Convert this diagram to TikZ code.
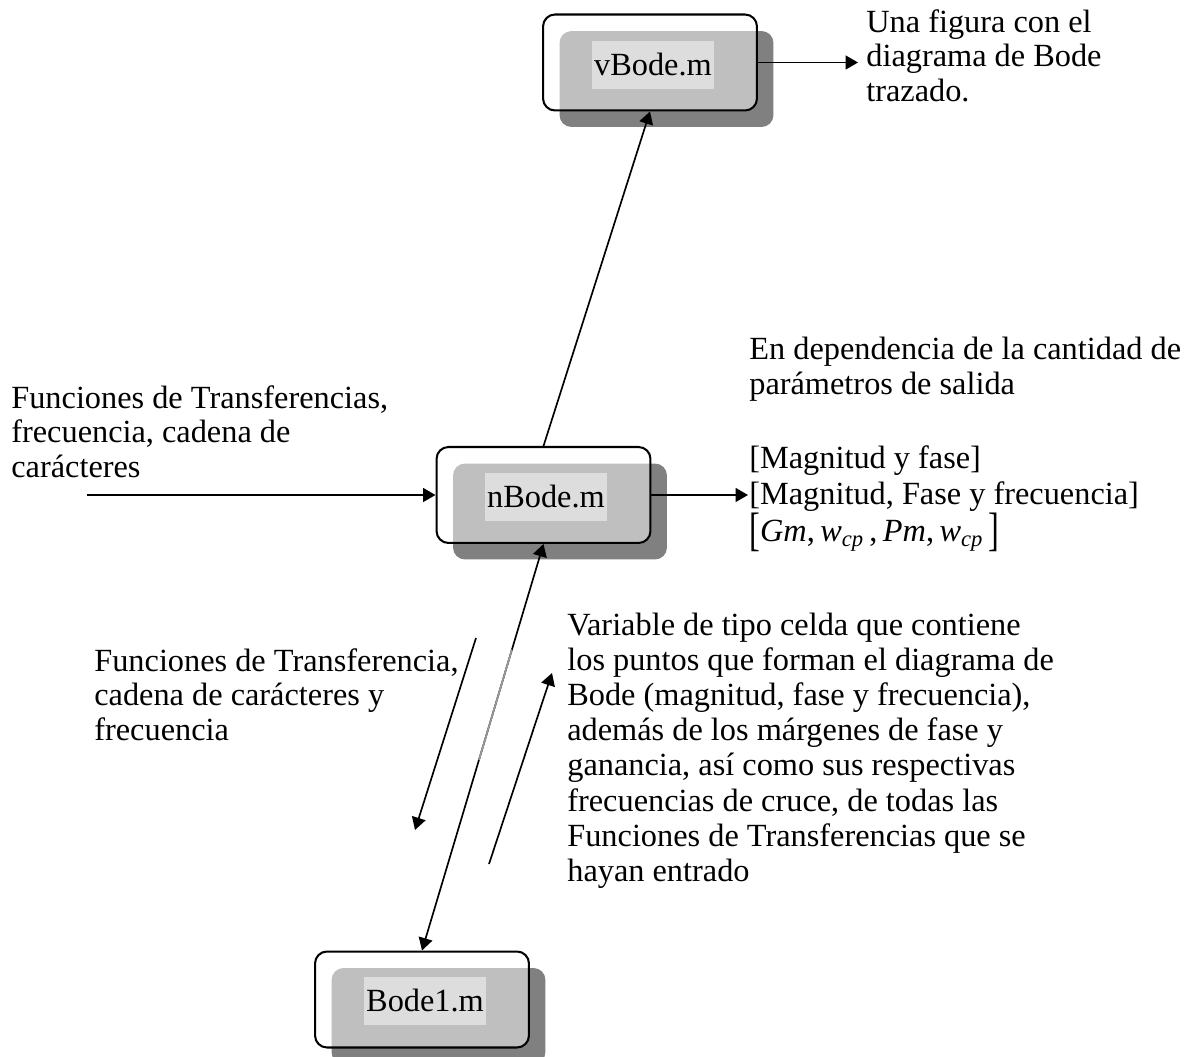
\documentclass[tikz,border=0pt]{standalone}
\usepackage{fontspec}
\setmainfont{Liberation Serif}
\usepackage{amsmath}
\usepackage{graphicx}
\usetikzlibrary{arrows.meta,calc}
\definecolor{shade}{HTML}{808080}
\definecolor{labbg}{HTML}{DDDDDD}
\begin{document}
\begin{tikzpicture}[x=0.02cm,y=-0.02cm,
  every node/.style={font=\fontsize{18.4pt}{19.7pt}\selectfont},
  modbox/.style={draw, line width=1.15pt, rounded corners=0.24cm, minimum width=4.28cm, minimum height=1.92cm, fill=white, fill opacity=0.5, text opacity=1},
  shadowbox/.style={fill=shade, rounded corners=0.24cm, minimum width=4.28cm, minimum height=1.92cm},
  lab/.style={fill=labbg, inner sep=0pt, minimum width=2.44cm, minimum height=0.96cm},
  txt/.style={anchor=north west, inner sep=0pt, align=left},
  arr/.style={line width=0.95pt, -{Triangle[length=0.25cm,width=0.28cm]}},
  darr/.style={line width=0.95pt, {Triangle[length=0.25cm,width=0.28cm]}-{Triangle[length=0.25cm,width=0.28cm]}}]
\useasboundingbox (0,0) rectangle (1191,1057);

% boxes
\node[shadowbox] (vbs) at (666.5,79) {};
\node[modbox] (vb) at (650,62.5) {};
\node[lab] (vbl) at (653,65) {vBode.m};

\node[shadowbox] (nbs) at (560,511.5) {};
\node[modbox] (nb) at (543.5,495) {};
\node[lab] (nbl) at (546,497) {nBode.m};

\node[shadowbox] (b1s) at (438.5,1016) {};
\node[modbox] (b1) at (422,999.5) {};
\node[lab] (b1l) at (425,1001) {Bode1.m};

% connectors
\coordinate (vout) at (858,62.5);
\draw[arr] (vb.east) -- (vout);
\coordinate (nin) at (87,495);
\draw[arr] (nin) -- (nb.west);
\coordinate (nout) at (748,495);
\draw[arr] (nb.east) -- (nout);
\draw[arr] (nb.north) -- (vb.south);
\draw[darr] (b1.north) -- (nb.south);
\draw[gray!80, line width=0.95pt] ($(b1.north)!0.469!(nb.south)$) -- ($(b1.north)!0.74!(nb.south)$);
\coordinate (a1s) at (476,638);
\coordinate (a1e) at (415,830);
\draw[arr] (a1s) -- (a1e);
\coordinate (a2s) at (489,864);
\coordinate (a2e) at (552,673);
\draw[arr] (a2s) -- (a2e);

% texts
\node[txt] (t1) at (11,385) {Funciones de Transferencias,\\frecuencia, cadena de\\carácteres};
\node[txt] (t2) at (866,9) {Una figura con el\\diagrama de Bode\\trazado.};
\node[txt] (t3) at (749,337) {En dependencia de la cantidad de\\parámetros de salida};
\node[anchor=base west, inner sep=0pt] (t4) at (749,469) {[Magnitud y fase]};
\node[anchor=base west, inner sep=0pt] (t5) at (749,505) {[Magnitud, Fase y frecuencia]};
\node[anchor=base west, inner sep=0pt] (t6) at (749,542) {\raisebox{-0.1em}{\scalebox{1}[1.45]{[}}\textit{Gm},\,\textit{w}$_{\textit{cp}}$\,,\,\textit{Pm},\,\textit{w}$_{\textit{cp}}$\,\raisebox{-0.1em}{\scalebox{1}[1.45]{]}}};
\node[txt] (t7) at (94,648) {Funciones de Transferencia,\\cadena de carácteres y\\frecuencia};
\node[txt, font=\fontsize{18.4pt}{19.95pt}\selectfont] (t8) at (567,613) {Variable de tipo celda que contiene\\los puntos que forman el diagrama de\\Bode (magnitud, fase y frecuencia),\\además de los márgenes de fase y\\ganancia, así como sus respectivas\\frecuencias de cruce, de todas las\\Funciones de Transferencias que se\\hayan entrado};
\end{tikzpicture}
\end{document}
